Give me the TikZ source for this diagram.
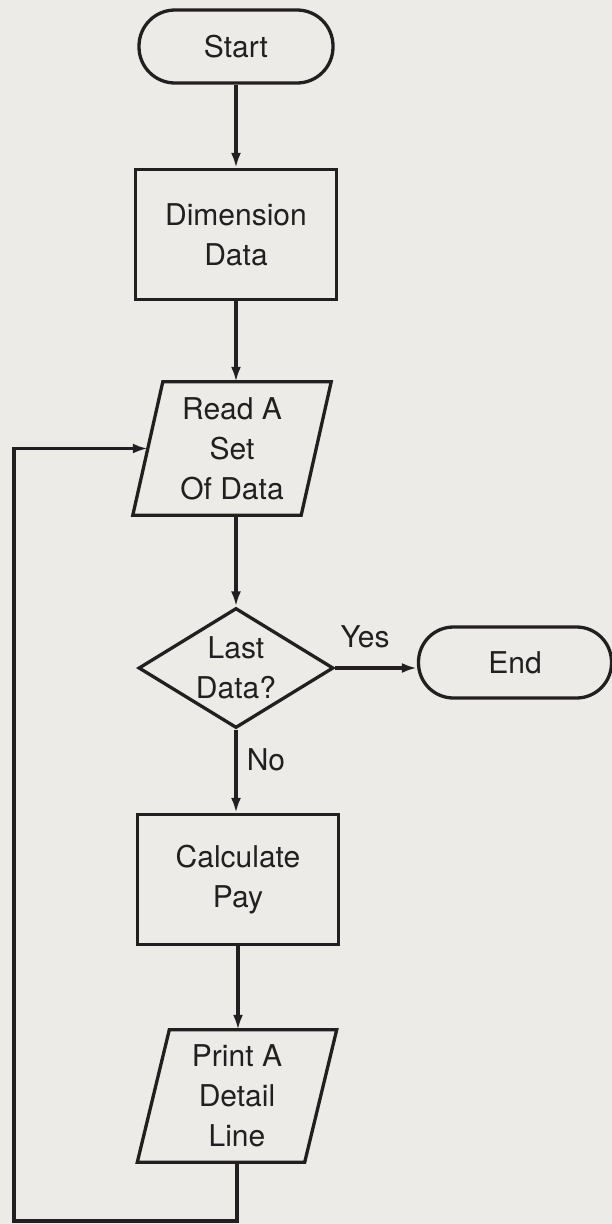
\documentclass[tikz,border=0pt]{standalone}
\usepackage{fontspec}
\setmainfont{TeX Gyre Heros}
\usetikzlibrary{arrows.meta,shapes.geometric,calc}
\definecolor{bg}{RGB}{236,235,231}
\definecolor{ink}{RGB}{35,31,32}
\begin{document}
\begin{tikzpicture}[x=1pt,y=-1pt,
  every node/.style={font=\fontsize{30}{40}\selectfont, text=ink},
  line/.style={draw=ink, line width=3.3pt},
  arr/.style={draw=ink, line width=3.1pt, -{Latex[length=15pt,width=10pt]}},
  term/.style={line, rounded corners=36pt, minimum width=194pt, minimum height=73pt, inner sep=0pt},
  proc/.style={line, minimum width=201pt, minimum height=130pt, inner sep=0pt, align=center},
  iotext/.style={minimum width=168pt, minimum height=133pt, inner sep=0pt, align=center},
  dec/.style={line, diamond, minimum width=195pt, minimum height=120pt, inner sep=0pt, aspect=1.625, align=center},
  lab/.style={inner sep=0pt}]
\fill[bg] (0,0) rectangle (612,1224);
\useasboundingbox (0,0) rectangle (612,1224);

\node[term] (st) at (236,46.5) {Start};
\node[proc] (dim) at (236,234.5) {Dimension\\Data};
\node[iotext] (rd) at (232,448.5) {Read A\\Set\\Of Data};
\draw[line] ($(rd.north west)+(15,0)$) -- ($(rd.north east)+(15,0)$) -- ($(rd.south east)-(15,0)$) -- ($(rd.south west)-(15,0)$) -- cycle;
\node[dec] (dm) at (236,668) {Last\\Data?};
\node[term, minimum width=193pt, minimum height=71pt, rounded corners=35pt] (en) at (515,662.5) {End};
\node[proc] (calc) at (238,879.5) {Calculate\\Pay};
\node[iotext, minimum width=167pt, minimum height=132pt] (pr) at (237,1096) {Print A\\Detail\\Line};
\draw[line] ($(pr.north west)+(16,0)$) -- ($(pr.north east)+(16,0)$) -- ($(pr.south east)-(16,0)$) -- ($(pr.south west)-(16,0)$) -- cycle;

\node[lab] (yes) at (365,637) {Yes};
\node[lab] (no) at (266,760) {No};

\coordinate (lb) at (14,1221);

\draw[arr] (st.south) -- (st.south |- dim.north);
\draw[arr] (dim.south) -- (dim.south |- rd.north);
\draw[arr] (dm.north |- rd.south) -- (dm.north);
\draw[arr] (dm.east) -- (dm.east -| en.west);
\draw[arr] (dm.south) -- (dm.south |- calc.north);
\draw[arr] (calc.south) -- (calc.south |- pr.north);
\draw[arr] (pr.south) |- (lb) |- (rd.west);
\end{tikzpicture}
\end{document}
